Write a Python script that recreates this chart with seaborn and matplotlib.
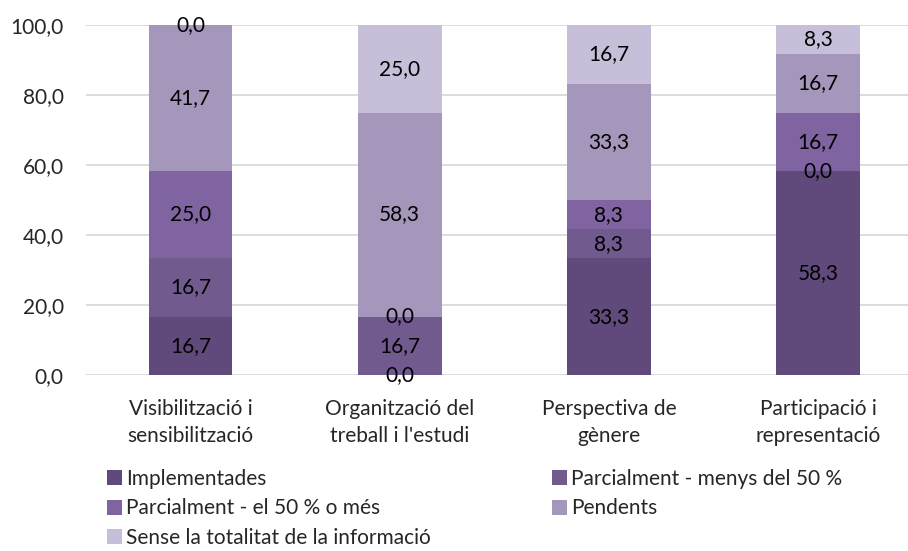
import matplotlib
matplotlib.use("Agg")
import matplotlib.pyplot as plt
import seaborn as sns
import numpy as np
import pandas as pd
from matplotlib.patches import Patch

categories = ["Visibilització i\nsensibilització", "Organització del\ntreball i l'estudi",
              "Perspectiva de\ngènere", "Participació i\nrepresentació"]
series = ["Implementades", "Parcialment - menys del 50 %", "Parcialment - el 50 % o més",
          "Pendents", "Sense la totalitat de la informació"]
implementades = [16.7, 0.0, 33.3, 58.3]
parc_menys = [16.7, 16.7, 8.3, 0.0]
parc_mes = [25.0, 0.0, 8.3, 16.7]
pendents = [41.7, 58.3, 33.3, 16.7]
sense = [0.0, 25.0, 16.7, 8.3]
colors = ["#604A7B", "#705A8E", "#8064A2", "#A597BC", "#C7BFD9"]
yticks = [0, 20, 40, 60, 80, 100]

values = [implementades, parc_menys, parc_mes, pendents, sense]
FS = 15

sns.set_theme(style="white")
plt.rcParams['font.family'] = ['Lato', 'DejaVu Sans']

fig = plt.figure(figsize=(9.08, 5.51), dpi=100)
ax = fig.add_axes([86/908, (551-375)/551, 1 - 86/908, 350/551])

vals = np.array(values)
cum = np.cumsum(vals, axis=0)

for i in range(len(series) - 1, -1, -1):
    df = pd.DataFrame({"cat": categories, "val": cum[i]})
    sns.barplot(data=df, x="cat", y="val", color=colors[i], saturation=1,
                width=0.4, linewidth=0, ax=ax, errorbar=None)

for i in range(len(series)):
    for j in range(len(categories)):
        v = vals[i, j]
        y = cum[i, j] - v / 2
        ax.text(j, y, f"{v:.1f}".replace(".", ","), ha="center", va="center",
                fontsize=FS, color="#000000", zorder=5)

ax.set_ylim(0, 100)
ax.set_xlim(-0.5, 3 + (908 - 818) / 209)
ax.set_yticks(yticks)
ax.set_yticklabels([f"{t:.1f}".replace(".", ",") for t in yticks], fontsize=FS)
ax.tick_params(axis="x", labelsize=FS, pad=17, length=0)
ax.tick_params(axis="y", length=0, pad=16)
ax.set_xlabel("")
ax.set_ylabel("")
ax.yaxis.grid(True, color="#D9D9D9", linewidth=1.3)
ax.set_axisbelow(True)
for s in ax.spines.values():
    s.set_visible(False)
for lbl in ax.get_xticklabels():
    lbl.set_linespacing(1.45)

handles = [Patch(facecolor=c, edgecolor="none") for c in colors]
common = dict(loc="upper left", frameon=False, fontsize=FS, handlelength=0.72,
              handleheight=0.72, handletextpad=0.2, labelspacing=0.45,
              borderpad=0, borderaxespad=0)
col1 = [0, 2, 4]
col2 = [1, 3]
leg1 = fig.legend([handles[k] for k in col1], [series[k] for k in col1],
                  bbox_to_anchor=(107/908, 1 - 469/551), **common)
leg2 = fig.legend([handles[k] for k in col2], [series[k] for k in col2],
                  bbox_to_anchor=(552/908, 1 - 469/551), **common)

fig.savefig("out.png", dpi=100)
